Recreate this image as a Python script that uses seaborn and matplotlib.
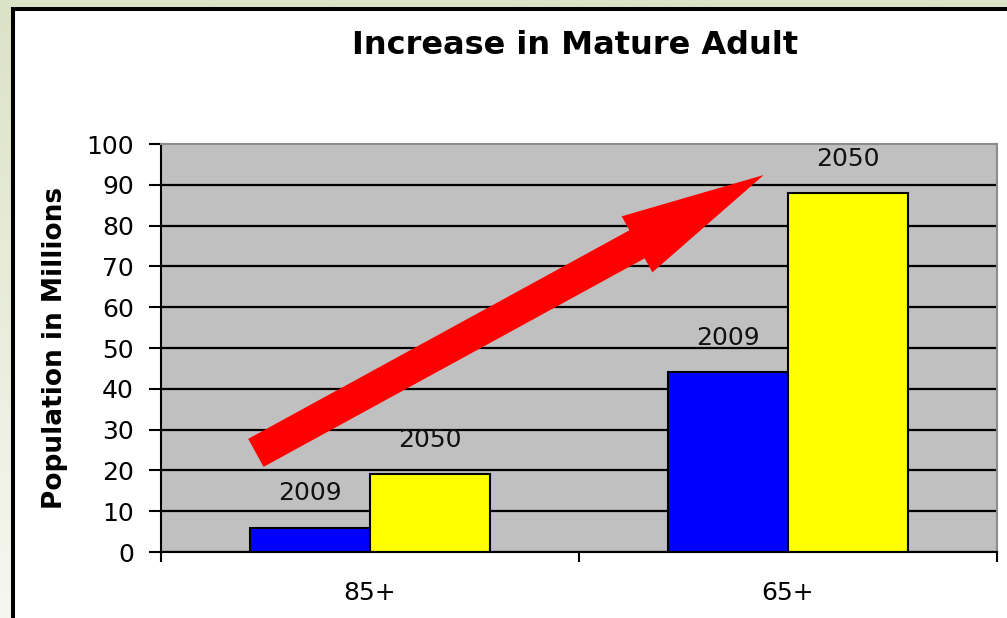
import matplotlib
matplotlib.use("Agg")
import matplotlib.pyplot as plt
import seaborn as sns
import pandas as pd
import numpy as np
from matplotlib.patches import Rectangle, FancyArrowPatch, ArrowStyle
from matplotlib.colors import LinearSegmentedColormap

# ---- data ----
categories = ["85+", "65+"]
years = ["2009", "2050"]
values_2009 = [6, 44]
values_2050 = [19, 88]
y_ticks = list(range(0, 101, 10))
title = "Increase in Mature Adult"
y_label = "Population in Millions"
# decorative trend arrow (data coordinates: category index, value)
arrow_start = (-0.273, 24.3)
arrow_end = (0.942, 92.4)

df = pd.DataFrame({
    "group": categories * 2,
    "year": [years[0]] * len(categories) + [years[1]] * len(categories),
    "value": values_2009 + values_2050,
})

plt.rcParams['font.family'] = ['DejaVu Sans']

W, H = 1007, 618
fig = plt.figure(figsize=(W / 100, H / 100), dpi=100)

# background gradient
bg = fig.add_axes([0, 0, 1, 1], zorder=-10)
grad = np.linspace(0, 1, 256).reshape(-1, 1)
cmap = LinearSegmentedColormap.from_list('bg', ['#DCE2C6', '#F6F7F0'])
bg.imshow(grad, aspect='auto', cmap=cmap, extent=[0, 1, 0, 1], origin='upper')
bg.axis('off')

# white slide panel with black frame
panel = Rectangle((13 / W, -0.2), 1.3, 1 - 9 / H + 0.2, transform=fig.transFigure,
                  facecolor='white', edgecolor='black', linewidth=2.9, zorder=-5)
fig.patches.append(panel)

ax = fig.add_axes([161 / W, 66 / H, 836 / W, 408 / H])
sns.barplot(data=df, x="group", y="value", hue="year", order=categories,
            hue_order=years, palette=["#0000FF", "#FFFF00"], width=0.575,
            edgecolor="black", linewidth=1.5, saturation=1, legend=False, ax=ax)

ax.set_facecolor('#C0C0C0')
ax.set_xlim(-0.5, 1.5)
ax.set_ylim(0, 100)
ax.set_yticks(y_ticks)
ax.set_xticks(range(len(categories)))
ax.set_xticklabels(categories)
ax.set_xticks([-0.5, 0.5, 1.5], minor=True)
ax.set_xlabel('')
ax.set_ylabel(y_label, fontsize=19, fontweight='bold')
ax.yaxis.set_label_coords(-0.111, 0.5)

ax.tick_params(axis='x', which='major', length=0, pad=21, labelsize=18)
ax.tick_params(axis='x', which='minor', length=7.5, width=1.5, direction='out')
ax.tick_params(axis='y', length=8.6, width=1.5, pad=11, labelsize=18)

ax.set_axisbelow(True)
ax.yaxis.grid(True, color='black', linewidth=1.6)
ax.xaxis.grid(False)
ax.yaxis.get_gridlines()[-1].set_visible(False)

for side in ['left', 'bottom']:
    ax.spines[side].set_color('black')
    ax.spines[side].set_linewidth(1.5)
for side in ['top', 'right']:
    ax.spines[side].set_color('#8C8C8C')
    ax.spines[side].set_linewidth(1.5)

for container, yr in zip(ax.containers, years):
    for bar in container:
        ax.annotate(yr, (bar.get_x() + bar.get_width() / 2, bar.get_height()),
                    xytext=(0, 24.5), textcoords='offset points',
                    ha='center', va='center', fontsize=18, color='#111111')

arrow = FancyArrowPatch(posA=arrow_start, posB=arrow_end,
                        arrowstyle=ArrowStyle.Simple(head_length=104, head_width=46, tail_width=23),
                        mutation_scale=1, facecolor='#FF0000', edgecolor='none',
                        linewidth=0, shrinkA=0, shrinkB=0, zorder=5)
ax.add_patch(arrow)

fig.text(575 / W, 1 - 45 / H, title, ha='center', va='center',
         fontsize=23, fontweight='bold')

fig.savefig('out.png', dpi=100)
